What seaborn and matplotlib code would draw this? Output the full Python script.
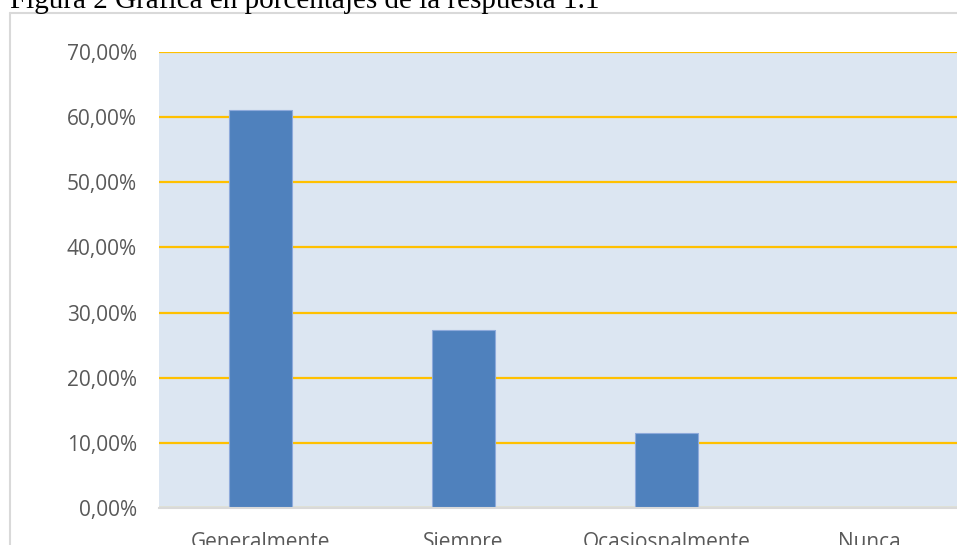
import matplotlib
matplotlib.use("Agg")
import matplotlib.pyplot as plt
from matplotlib.lines import Line2D
from matplotlib.ticker import FuncFormatter
import seaborn as sns
import pandas as pd

# data
categorias = ["Generalmente", "Siempre", "Ocasiosnalmente", "Nunca"]
porcentajes = [61.05, 27.37, 11.58, 0.0]
titulo = "Figura 2 Gráfica en porcentajes de la respuesta 1.1"

df = pd.DataFrame({"categoria": categorias, "porcentaje": porcentajes})

sns.set_style("white")
plt.rcParams["font.family"] = ["Open Sans", "DejaVu Sans"]

W, H = 957, 545
fig = plt.figure(figsize=(W / 100, H / 100), dpi=100)

# axes placed in pixel terms; right side runs off the picture like the reference
left, right, top, bottom = 159, 159 + 4 * 203, 52, 508
ax = fig.add_axes([left / W, 1 - bottom / H, (right - left) / W, (bottom - top) / H])
ax.set_facecolor("#DCE6F2")

sns.barplot(data=df, x="categoria", y="porcentaje", color="#4F81BD",
            saturation=1, width=0.31, edgecolor="#8EAADB", linewidth=0.8, ax=ax)

ax.set_ylim(0, 70)
ax.set_xlim(-0.5, 3.5)
ax.set_yticks(range(0, 71, 10))
ax.yaxis.set_major_formatter(FuncFormatter(lambda v, p: f"{v:.2f}%".replace(".", ",")))
ax.grid(axis="y", color="#FFC000", linewidth=1.6)
ax.set_axisbelow(True)
for s in ["top", "right", "left"]:
    ax.spines[s].set_visible(False)
ax.spines["bottom"].set_color("#D9D9D9")
ax.spines["bottom"].set_linewidth(1.5)
ax.set_xlabel("")
ax.set_ylabel("")
ax.tick_params(axis="y", length=0, pad=16, labelsize=15, labelcolor="#595959")
ax.tick_params(axis="x", length=0, pad=17, labelsize=15, labelcolor="#595959")

# chart frame (light grey) and caption above it
fig.add_artist(Line2D([10 / W, 1], [1 - 12.5 / H, 1 - 12.5 / H], color="#D9D9D9", lw=1.5))
fig.add_artist(Line2D([10 / W, 10 / W], [0, 1 - 12.5 / H], color="#D9D9D9", lw=1.5))
fig.text(10 / W, 1 - 8 / H, titulo, family="Liberation Serif", fontsize=21,
         color="black", ha="left", va="baseline")

fig.savefig("out.png", dpi=100)
